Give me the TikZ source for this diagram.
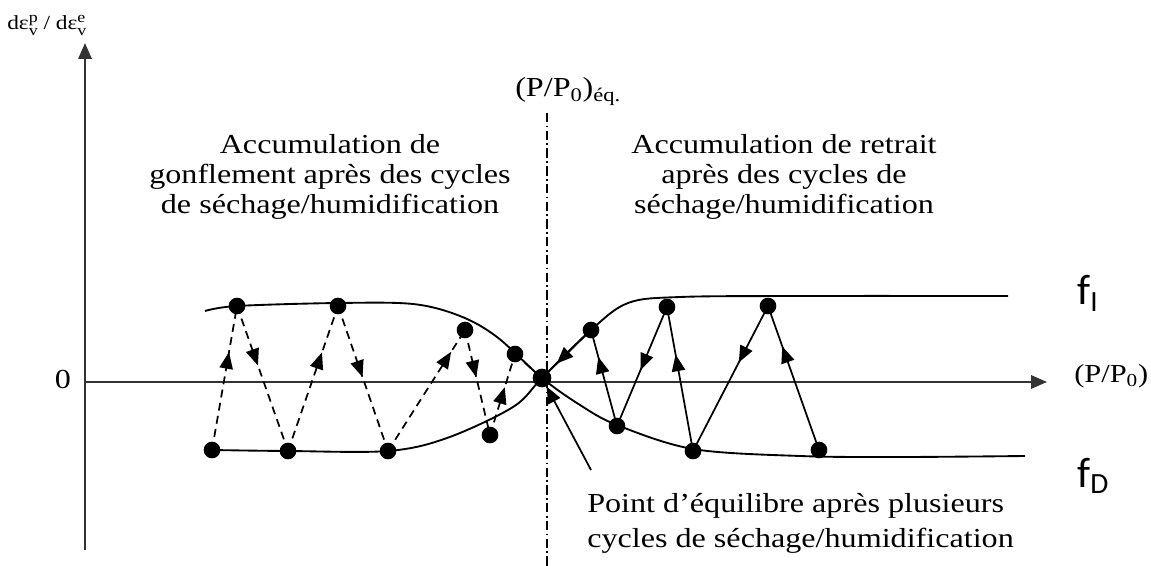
\documentclass[tikz,border=0pt]{standalone}
\usepackage{fontspec}
\setmainfont{Liberation Serif}[FakeStretch=1.17]
\newfontfamily\calib{Carlito}
\usetikzlibrary{arrows.meta,decorations.markings}
\newcommand{\mysupsub}[2]{\raisebox{-3.8pt}{\fontsize{11.5}{9.5}\selectfont\begin{tabular}[b]{@{}l@{}}#1\\#2\end{tabular}}}
\tikzset{
  dot/.style={circle, fill=black, inner sep=0pt, minimum size=12.5pt},
  eqdot/.style={circle, fill=black, inner sep=0pt, minimum size=14pt},
  curve/.style={line width=1.4pt},
  seg/.style={line width=1.3pt},
  dseg/.style={seg, dash pattern=on 6pt off 4pt},
  axis/.style={line width=1.6pt, black!80, -{Triangle[length=12pt,width=10pt]}},
  lbl/.style={font=\fontsize{20.6}{22.5}\selectfont, inner sep=0pt},
  midarrow/.style={postaction={decorate, decoration={markings,
     mark=at position #1 with {\arrow{Triangle[length=12.5pt,width=10pt]}}}}},
}
\begin{document}
\begin{tikzpicture}[x=0.75pt,y=-0.75pt]
\useasboundingbox (0,0) rectangle (1151,566);
% axes
\coordinate (O) at (85,382);
\coordinate (ybot) at (85,550);
\coordinate (ytop) at (85,43);
\coordinate (xend) at (1047,382);
\draw[line width=1.6pt, black!80] (O) -- (ybot);
\draw[axis] (O) -- (ytop);
\draw[axis] (O) -- (xend);
% vertical dash-dot line
\coordinate (vtop) at (547,113);
\coordinate (vbot) at (547,566);
\draw[line width=2pt, dash pattern=on 7pt off 2.5pt on 1.3pt off 2.5pt] (vtop) -- (vbot);
% curves
\draw[curve] plot[smooth, tension=0.55] coordinates {(205,311) (237,306) (338,303) (413,304) (460,316) (497,337) (542,378) (580,405) (617,425) (693,449) (800,456) (900,457) (1025,456)};
\draw[curve] plot[smooth, tension=0.55] coordinates {(212,450) (288,451) (388,451) (447,438) (513,407) (542,378) (591,330) (628,303) (680,297) (800,296) (1008,296)};
% dots
\node[dot] (a1) at (212,450) {};
\node[dot] (a2) at (237,306) {};
\node[dot] (a3) at (288,451) {};
\node[dot] (a4) at (338,306) {};
\node[dot] (a5) at (388,451) {};
\node[dot] (a6) at (465,330) {};
\node[dot] (a7) at (490,435) {};
\node[dot] (a8) at (515,354) {};
\node[eqdot] (E) at (542,378) {};
\node[dot] (b1) at (591,330) {};
\node[dot] (b2) at (617,426) {};
\node[dot] (b3) at (667,307) {};
\node[dot] (b4) at (693,451) {};
\node[dot] (b5) at (768,306) {};
\node[dot] (b6) at (819,450) {};
% left dashed cycles
\draw[dseg, midarrow=0.68] (a1.center) -- (a2.center);
\draw[dseg, midarrow=0.41] (a2.center) -- (a3.center);
\draw[dseg, midarrow=0.68] (a3.center) -- (a4.center);
\draw[dseg, midarrow=0.49] (a4.center) -- (a5.center);
\draw[dseg, midarrow=0.82] (a5.center) -- (a6.center);
\draw[dseg, midarrow=0.45] (a6.center) -- (a7.center);
\draw[dseg, midarrow=0.59] (a7.center) -- (a8.center);
\draw[dseg] (a8.center) -- (E.center);
% right solid cycles
\draw[seg, midarrow=0.72] (b6.center) -- (b5.center);
\draw[seg, midarrow=0.39] (b5.center) -- (b4.center);
\draw[seg, midarrow=0.67] (b4.center) -- (b3.center);
\draw[seg, midarrow=0.53] (b3.center) -- (b2.center);
\draw[seg, midarrow=0.72] (b2.center) -- (b1.center);
\draw[seg, midarrow=0.70] (b1.center) -- (E.center);
% pointer
\coordinate (ptr) at (591,470);
\draw[seg, -{Triangle[length=12.5pt,width=10pt]}] (ptr) -- (E);
% labels
\node[lbl, anchor=base] (zero) at (63,388) {0};
\node[inner sep=0pt, anchor=base west, font=\fontsize{19.5}{22}\selectfont] (xlab) at (1074,382) {(P/P\textsubscript{0})};
\node[lbl, anchor=base west] (eqlab) at (515,97) {(P/P\textsubscript{0})\textsubscript{éq.}};
\node[inner sep=0pt, anchor=base west, font=\fontsize{15}{18}\selectfont] (ylab) at (7,30)
  {dε\mysupsub{p}{v} / dε\mysupsub{e}{v}};
\node[lbl, anchor=north, align=center] (tleft) at (330,134)
  {Accumulation de\\gonflement après des cycles\\de séchage/humidification};
\node[lbl, anchor=north, align=center] (tright) at (784,134)
  {Accumulation de retrait\\après des cycles de\\séchage/humidification};
\node[anchor=north west, align=left, inner sep=0pt, font=\fontsize{20.6}{26.25}\selectfont] (tbot) at (587,493)
  {Point d’équilibre après plusieurs\\cycles de séchage/humidification};
\node[anchor=base west, inner sep=0pt, font=\calib\fontsize{32}{34}\selectfont] (fI) at (1077,305)
  {f\raisebox{-5pt}{\fontsize{22}{24}\selectfont I}};
\node[anchor=base west, inner sep=0pt, font=\calib\fontsize{32}{34}\selectfont] (fD) at (1077,487)
  {f\raisebox{-5pt}{\fontsize{22}{24}\selectfont D}};
\end{tikzpicture}
\end{document}
